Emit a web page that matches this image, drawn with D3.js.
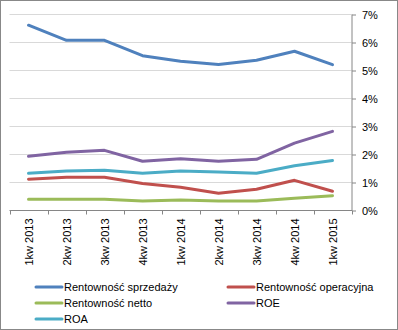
<!DOCTYPE html>
<html><head><meta charset="utf-8">
<script src="https://cdn.jsdelivr.net/npm/d3@7"></script>
<style>
html,body{margin:0;padding:0;background:#fff;}
svg{display:block;font-family:"Liberation Sans",Arial,sans-serif;}
</style></head>
<body>
<svg id="chart" width="398" height="330"></svg>
<script>
const categories = ["1kw 2013","2kw 2013","3kw 2013","4kw 2013","1kw 2014","2kw 2014","3kw 2014","4kw 2014","1kw 2015"];
const rentownoscSprzedazy = [6.60, 6.06, 6.06, 5.51, 5.31, 5.20, 5.35, 5.67, 5.19];
const rentownoscOperacyjna = [1.10, 1.17, 1.17, 0.95, 0.81, 0.60, 0.74, 1.06, 0.67];
const rentownoscNetto = [0.38, 0.38, 0.38, 0.32, 0.36, 0.32, 0.32, 0.42, 0.51];
const roe = [1.92, 2.06, 2.13, 1.74, 1.83, 1.74, 1.81, 2.39, 2.81];
const roa = [1.31, 1.39, 1.42, 1.31, 1.39, 1.36, 1.31, 1.58, 1.77];
const yTicks = [0, 1, 2, 3, 4, 5, 6, 7];

const series = [
  {name: "Rentowność sprzedaży", values: rentownoscSprzedazy, color: "#4F81BD"},
  {name: "Rentowność operacyjna", values: rentownoscOperacyjna, color: "#C0504D"},
  {name: "Rentowność netto", values: rentownoscNetto, color: "#9BBB59"},
  {name: "ROE", values: roe, color: "#8064A2"},
  {name: "ROA", values: roa, color: "#4BACC6"}
];

const svg = d3.select("#chart");
const W = 398, H = 330;
const plot = {left: 9.5, right: 351.5, top: 14, bottom: 210};

// chart border
svg.append("rect").attr("x", 0.5).attr("y", 0.5).attr("width", W - 1).attr("height", H - 1)
  .attr("fill", "#fff").attr("stroke", "#888");

const x = d3.scaleBand().domain(categories).range([plot.left, plot.right]).padding(0);
const y = d3.scaleLinear().domain([0, 7]).range([plot.bottom, plot.top]);

// horizontal gridlines
svg.append("g").selectAll("line").data(yTicks.filter(d => d > 0)).join("line")
  .attr("x1", plot.left).attr("x2", plot.right)
  .attr("y1", d => Math.round(y(d)) + 0.5).attr("y2", d => Math.round(y(d)) + 0.5)
  .attr("stroke", "#D9D9D9").attr("stroke-width", 1);

// right value axis
const yAxis = d3.axisRight(y).tickValues(yTicks).tickSize(4).tickPadding(6)
  .tickFormat(d => d + "%");
const gy = svg.append("g").attr("transform", `translate(${plot.right + 0.5},0.5)`).call(yAxis);
gy.select(".domain").attr("stroke", "#868686").attr("d", `M0,${y(7)}V${y(0)}`);
gy.selectAll(".tick line").attr("stroke", "#868686");
gy.selectAll(".tick text").attr("font-size", 11).attr("fill", "#000")
  .attr("font-family", "'Liberation Sans', Arial, sans-serif");

// category axis with boundary ticks
const gx = svg.append("g").attr("transform", `translate(0,${plot.bottom + 0.5})`);
gx.append("line").attr("x1", plot.left).attr("x2", plot.right + 0.5).attr("stroke", "#868686");
const bounds = categories.map(c => x(c)).concat([plot.right]);
gx.selectAll("line.tk").data(bounds).join("line").attr("class", "tk")
  .attr("x1", d => Math.round(d) + 0.5).attr("x2", d => Math.round(d) + 0.5)
  .attr("y1", 0).attr("y2", 4).attr("stroke", "#868686");
gx.selectAll("text").data(categories).join("text")
  .attr("transform", d => `translate(${x(d) + x.bandwidth() / 2 + 4},8) rotate(-90)`)
  .attr("text-anchor", "end").attr("font-size", 11).attr("fill", "#000")
  .text(d => d);

// series lines
const line = d3.line()
  .x((d, i) => x(categories[i]) + x.bandwidth() / 2)
  .y(d => y(d));
svg.append("g").selectAll("path").data(series).join("path")
  .attr("d", s => line(s.values))
  .attr("fill", "none").attr("stroke", s => s.color)
  .attr("stroke-width", 3).attr("stroke-linejoin", "round").attr("stroke-linecap", "round");

// legend
const legendPos = [
  {x: 36, y: 287}, {x: 228, y: 287},
  {x: 36, y: 303}, {x: 228, y: 303},
  {x: 36, y: 319}
];
const lg = svg.append("g").selectAll("g").data(series).join("g")
  .attr("transform", (d, i) => `translate(${legendPos[i].x},${legendPos[i].y})`);
lg.append("line").attr("x1", 0).attr("x2", 26).attr("y1", 0).attr("y2", 0)
  .attr("stroke", d => d.color).attr("stroke-width", 3).attr("stroke-linecap", "round");
lg.append("text").attr("x", 28).attr("y", 4).attr("font-size", 11).attr("fill", "#000")
  .text(d => d.name);
</script>
</body></html>
